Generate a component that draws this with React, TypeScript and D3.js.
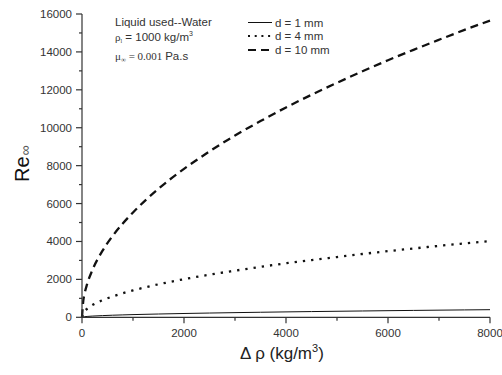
import React from "react";
import * as d3 from "d3";

// Density difference between particle and liquid (kg/m^3)
const deltaRho = [0, 25, 50, 100, 200, 400, 600, 800, 1000, 1500, 2000, 2500, 3000, 3500, 4000, 4500, 5000, 5500, 6000, 6500, 7000, 7500, 8000];
// Terminal Reynolds number for each particle diameter
const re1mm = [0, 22, 32, 45, 64, 90, 110, 127, 142, 174, 201, 225, 246, 266, 285, 302, 318, 334, 349, 363, 377, 390, 402];
const re4mm = [0, 220, 320, 450, 640, 900, 1100, 1270, 1420, 1740, 2010, 2250, 2460, 2660, 2850, 3020, 3180, 3340, 3490, 3630, 3770, 3900, 4020];
const re10mm = [0, 870, 1240, 1750, 2470, 3500, 4290, 4950, 5530, 6780, 7830, 8750, 9590, 10350, 11070, 11740, 12370, 12980, 13560, 14110, 14640, 15160, 15650];

const seriesNames = ["d = 1 mm", "d = 4 mm", "d = 10 mm"];
const xTicks = [0, 2000, 4000, 6000, 8000];
const xMinorTicks = [1000, 3000, 5000, 7000];
const yTicks = [0, 2000, 4000, 6000, 8000, 10000, 12000, 14000, 16000];
const yMinorTicks = [1000, 3000, 5000, 7000, 9000, 11000, 13000, 15000];

const SANS = "'Liberation Sans', Arial, sans-serif";
const SERIF = "'Liberation Serif', 'Times New Roman', serif";
const AXIS = "#333";

export default function App() {
  const x = d3.scaleLinear().domain([0, 8000]).range([82, 490]);
  const y = d3.scaleLinear().domain([0, 16000]).range([317.3, 14]);

  const line = (vals: number[]) =>
    d3
      .line<number>()
      .x((_, i) => x(deltaRho[i]))
      .y((v) => y(v))
      .curve(d3.curveMonotoneX)(vals) as string;

  const styles = [
    { stroke: "#111", width: 1, dash: undefined as string | undefined },
    { stroke: "#111", width: 2.3, dash: "2.3 6" },
    { stroke: "#111", width: 2.3, dash: "8 5" },
  ];
  const data = [re1mm, re4mm, re10mm];
  const legendY = [22.5, 36, 50];

  return (
    <svg
      width={502}
      height={375}
      style={{ position: "absolute", left: 0, top: 0, background: "#fff" }}
    >
      <rect width={502} height={375} fill="#fff" />

      {/* curves */}
      {data.map((vals, i) => (
        <path
          key={i}
          d={line(vals)}
          fill="none"
          stroke={styles[i].stroke}
          strokeWidth={styles[i].width}
          strokeDasharray={styles[i].dash}
        />
      ))}

      {/* axes */}
      <line x1={82} x2={82} y1={y(16000)} y2={y(0)} stroke={AXIS} strokeWidth={1.2} />
      <line x1={82} x2={x(8000)} y1={y(0)} y2={y(0)} stroke={AXIS} strokeWidth={1.2} />
      {yTicks.map((t) => (
        <g key={"y" + t}>
          <line x1={76} x2={82} y1={y(t)} y2={y(t)} stroke={AXIS} strokeWidth={1.2} />
          <text x={72} y={y(t) + 4} textAnchor="end" fontFamily={SANS} fontSize={11.5} fill="#333">
            {t}
          </text>
        </g>
      ))}
      {yMinorTicks.map((t) => (
        <line key={"ym" + t} x1={79} x2={82} y1={y(t)} y2={y(t)} stroke={AXIS} strokeWidth={1.2} />
      ))}
      {xTicks.map((t) => (
        <g key={"x" + t}>
          <line x1={x(t)} x2={x(t)} y1={y(0)} y2={y(0) + 6} stroke={AXIS} strokeWidth={1.2} />
          <text x={x(t)} y={337} textAnchor="middle" fontFamily={SANS} fontSize={11.5} fill="#333">
            {t}
          </text>
        </g>
      ))}
      {xMinorTicks.map((t) => (
        <line key={"xm" + t} x1={x(t)} x2={x(t)} y1={y(0)} y2={y(0) + 3.5} stroke={AXIS} strokeWidth={1.2} />
      ))}

      {/* axis titles */}
      <text x={240} y={359} fontFamily={SANS} fontSize={17} fill="#222">
        Δ ρ (kg/m
        <tspan fontSize={11} dy={-7}>3</tspan>
        <tspan dy={7}>)</tspan>
      </text>
      <text transform="translate(28.5,182) rotate(-90)" fontFamily={SANS} fontSize={20} fill="#111">
        Re
        <tspan fontSize={14} dy={1} dx={1} fill="#555">∞</tspan>
      </text>

      {/* conditions note */}
      <text x={115} y={26} fontFamily={SANS} fontSize={11.5} fill="#333">
        Liquid used--Water
      </text>
      <text x={115} y={41} fontFamily={SANS} fontSize={11.5} fill="#333">
        <tspan fontFamily={SERIF} fontSize={11}>ρ</tspan>
        <tspan fontFamily={SERIF} fontSize={6} dy={2}>l</tspan>
        <tspan dy={-2}> = 1000 kg/m</tspan>
        <tspan fontSize={7} dy={-5}>3</tspan>
      </text>
      <text x={115} y={60} fontFamily={SERIF} fontSize={11} fill="#333">
        μ
        <tspan fontSize={7} dy={2}>∞</tspan>
        <tspan dy={-2}> = 0.001 </tspan>
        <tspan fontFamily={SANS} fontSize={11.5}>Pa.s</tspan>
      </text>

      {/* legend */}
      {seriesNames.map((name, i) => (
        <g key={name}>
          <line
            x1={248}
            x2={272}
            y1={legendY[i]}
            y2={legendY[i]}
            stroke={styles[i].stroke}
            strokeWidth={i === 0 ? 1 : 2}
            strokeDasharray={i === 1 ? "2 4.7" : i === 2 ? "8 5" : undefined}
          />
          <text x={275} y={legendY[i] + 4} fontFamily={SANS} fontSize={11.5} fill="#333">
            {name}
          </text>
        </g>
      ))}
    </svg>
  );
}
